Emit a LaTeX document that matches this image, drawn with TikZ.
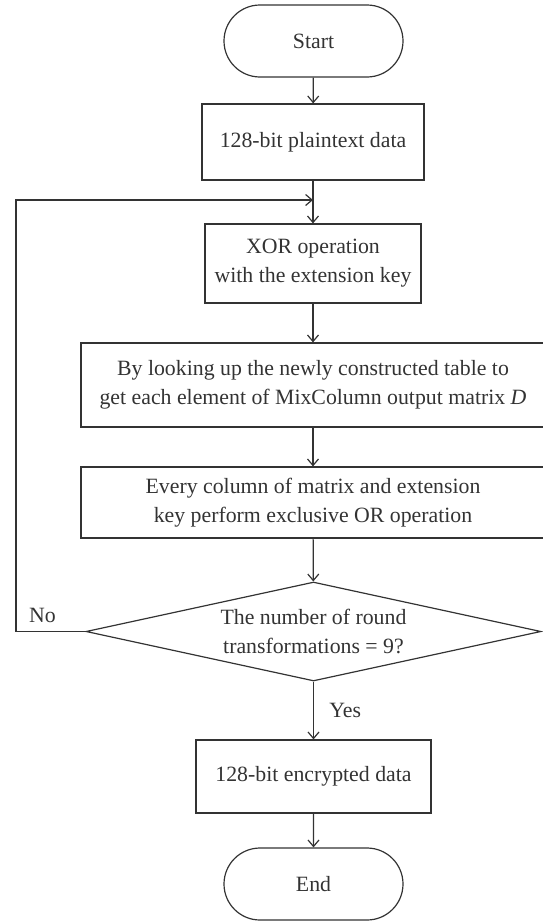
\documentclass[tikz,border=0pt]{standalone}
\usepackage{fontspec}
\setmainfont{Liberation Serif}
\usepackage{tikz}
\usetikzlibrary{arrows.meta,positioning,shapes}
\definecolor{ink}{rgb}{0.2,0.2,0.2}

\begin{document}
\begin{tikzpicture}[x=1pt,y=-1pt]
\tikzstyle{every node}=[font=\fontsize{21.8}{29}\selectfont,text=ink]
\tikzstyle{box}=[draw=ink,line width=1.2pt,rectangle,align=center,inner sep=0pt]
\tikzstyle{term}=[draw=ink,line width=1.2pt,rounded rectangle,minimum width=179pt,minimum height=72pt,inner sep=0pt]
\tikzstyle{test}=[draw=ink,line width=1.2pt,diamond,aspect=4.6,minimum width=455pt,minimum height=99pt,inner sep=0pt,align=center]
\tikzstyle{arrow}=[draw=ink,line width=1.2pt,->,>={Straight Barb[length=6.5pt,width=11pt]}]
\useasboundingbox (0,0) rectangle (543,921);
\node [term] at (313.5,41) (start) {Start};
\node [box,minimum width=222pt,minimum height=76pt] at (313,142) (plain) {128-bit plaintext data};
\node [box,minimum width=216pt,minimum height=79pt] at (313,263.5) (xor) {XOR operation\\with the extension key};
\node [box,minimum width=464pt,minimum height=84pt] at (313,385) (mix) {By looking up the newly constructed table to\\get each element of MixColumn output matrix \emph{D}};
\node [box,minimum width=464pt,minimum height=71pt] at (313,502.5) (exor) {Every column of matrix and extension\\key perform exclusive OR operation};
\node [test] at (313.5,631.5) (cond) {The number of round\\transformations = 9?};
\node [box,minimum width=235pt,minimum height=73pt] at (313.5,776.5) (enc) {128-bit encrypted data};
\node [term] at (313.5,884) (finish) {End};
\coordinate (join) at (313,200);
\coordinate (back) at (16,200);
\draw [arrow] (start) -- (plain);
\draw [arrow] (plain) -- (xor);
\draw [arrow] (xor) -- (mix);
\draw [arrow] (mix) -- (exor);
\draw [arrow] (exor) -- (cond);
\draw [arrow] (cond) -- node[right=12pt] {Yes} (enc);
\draw [arrow] (enc) -- (finish);
\draw [arrow] (cond.west) -| node[pos=0.31,above=5pt] {No} (back) -- (join);
\end{tikzpicture}
\end{document}
